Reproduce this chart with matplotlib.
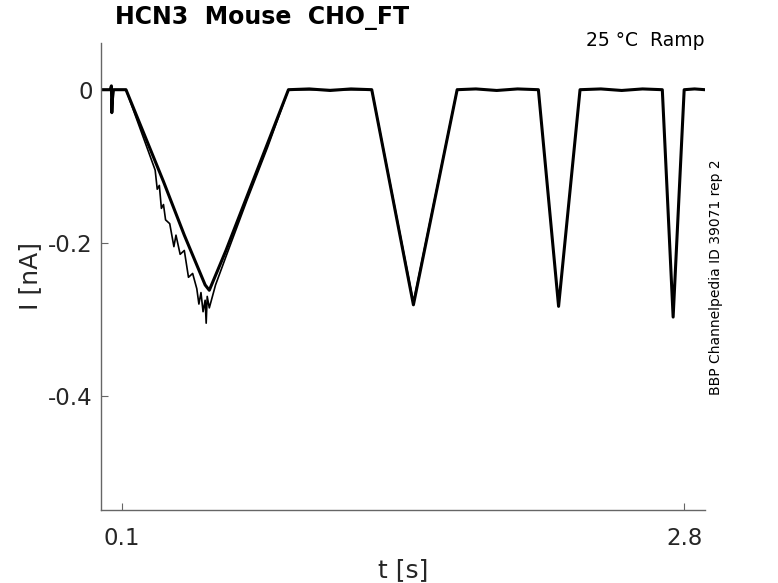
import matplotlib
matplotlib.use("Agg")
import matplotlib.pyplot as plt

# sweep 1 (smooth one) - breakpoints, t in s, I in nA
t1 = [0.0, 0.045, 0.05, 0.052, 0.055, 0.06, 0.12, 0.30, 0.40, 0.50, 0.52,
      0.60, 0.75, 0.90, 1.00, 1.10, 1.20, 1.30, 1.50, 1.71, 1.80, 1.90, 2.00,
      2.10, 2.197, 2.30, 2.40, 2.50, 2.60, 2.695, 2.747, 2.80, 2.85, 2.90]
i1 = [0.0, 0.0, 0.005, -0.03, -0.012, 0.0, 0.0, -0.12, -0.19, -0.255, -0.262,
      -0.21, -0.105, 0.0, 0.001, -0.001, 0.001, 0.0, -0.281, 0.0, 0.001,
      -0.001, 0.001, 0.0, -0.283, 0.0, 0.001, -0.001, 0.001, 0.0, -0.297,
      0.0, 0.001, 0.0]

# sweep 2 (noisy one on the first ramp)
t2 = [0.0, 0.12, 0.26, 0.27, 0.28, 0.29, 0.30, 0.31, 0.33, 0.35, 0.36, 0.38,
      0.40, 0.42, 0.44, 0.46, 0.47, 0.48, 0.49, 0.50, 0.505, 0.51, 0.52, 0.55,
      0.60, 0.70, 0.80, 0.90, 1.30, 1.50, 1.71]
i2 = [0.0, 0.0, -0.105, -0.13, -0.125, -0.155, -0.15, -0.17, -0.175, -0.205,
      -0.19, -0.215, -0.21, -0.245, -0.24, -0.26, -0.28, -0.265, -0.29,
      -0.275, -0.305, -0.27, -0.285, -0.255, -0.218, -0.145, -0.075, 0.0,
      0.0, -0.278, 0.0]

x_ticks = [0.1, 2.8]
y_ticks = [0, -0.2, -0.4]
y_tick_labels = ["0", "-0.2", "-0.4"]

fig = plt.figure(figsize=(7.78, 5.83), dpi=100)
ax = fig.add_axes([101 / 778, 1 - 510 / 583, 604 / 778, 467 / 583])

ax.plot(t2, i2, color="black", lw=1.2)
ax.plot(t1, i1, color="black", lw=2.2)

ax.set_xlim(0.0, 2.9)
ax.set_ylim(-0.549, 0.061)
ax.set_xticks(x_ticks)
ax.set_xticklabels(["0.1", "2.8"])
ax.set_yticks(y_ticks)
ax.set_yticklabels(y_tick_labels)

for s in ["top", "right"]:
    ax.spines[s].set_visible(False)
for s in ["left", "bottom"]:
    ax.spines[s].set_color("#666666")
    ax.spines[s].set_linewidth(1.0)
ax.tick_params(direction="in", length=5, width=0.8, color="#666666",
               labelsize=16.5, labelcolor="#262626")
ax.tick_params(axis="x", pad=12)
ax.tick_params(axis="y", pad=6)

ax.set_xlabel("t [s]", fontsize=18, color="#262626", labelpad=6)
ax.set_ylabel("I [nA]", fontsize=18, color="#262626", labelpad=4)

fig.text(115 / 778, 1 - 18 / 583, "HCN3  Mouse  CHO_FT", fontsize=17,
         fontweight="bold", va="center", ha="left")
fig.text(704 / 778, 1 - 40 / 583, "25 °C  Ramp", fontsize=13.5,
         ha="right", va="center")
fig.text(716 / 778, 1 - 277 / 583, "BBP Channelpedia ID 39071 rep 2",
         fontsize=10, rotation=90, ha="center", va="center")

fig.savefig("out.png", dpi=100)
